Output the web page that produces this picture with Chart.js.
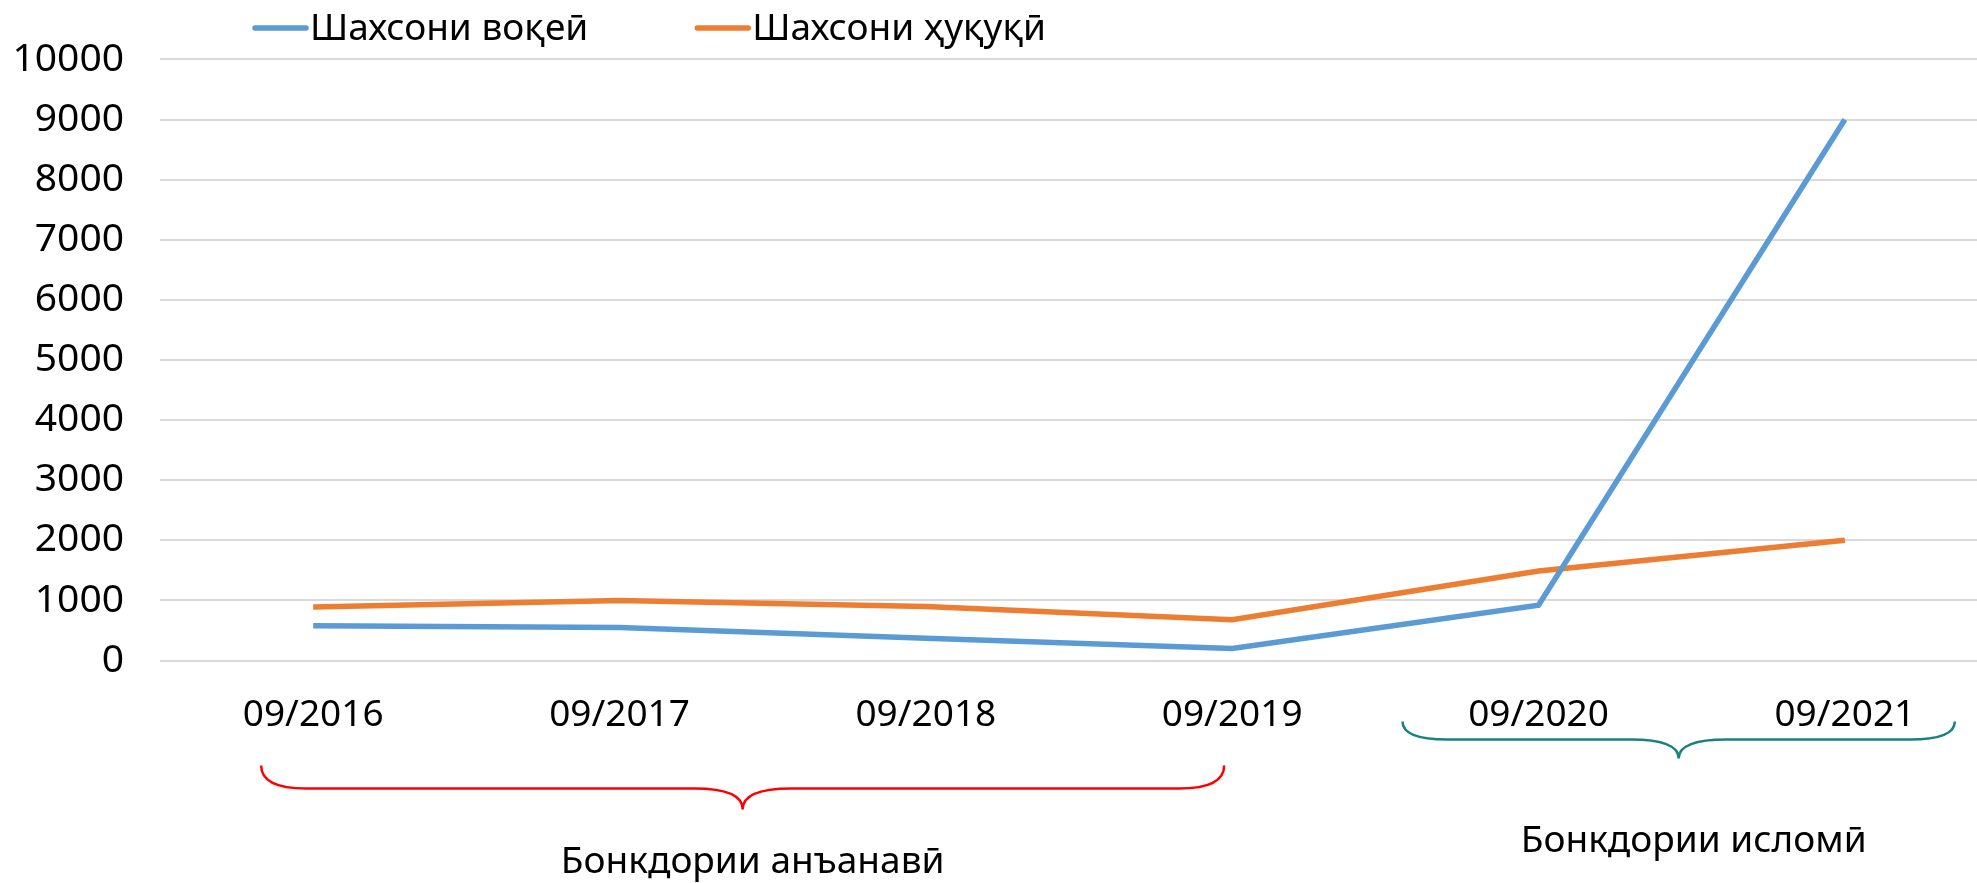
<!DOCTYPE html>
<html>
<head>
<meta charset="utf-8">
<script src="https://cdn.jsdelivr.net/npm/chart.js@4.4.0/dist/chart.umd.min.js"></script>
<style>
  html, body { margin: 0; padding: 0; background: #fff; overflow: hidden; }
  #wrap { width: 2000px; height: 883px; position: relative; }
</style>
</head>
<body>
<div id="wrap"><canvas id="chart"></canvas></div>
<script>
// data
const categories = ['09/2016', '09/2017', '09/2018', '09/2019', '09/2020', '09/2021'];
const physicalPersons = [580, 550, 370, 200, 920, 9000];
const legalPersons = [890, 1000, 900, 680, 1490, 2000];
const seriesNames = ['Шахсони воқеӣ', 'Шахсони ҳуқуқӣ'];
const groupNames = ['Бонкдории анъанавӣ', 'Бонкдории исломӣ'];
const groupRanges = [[0, 3], [4, 5]];

const FONT = '"Noto Sans", sans-serif';
const blue = '#5B9BD5';
const orange = '#ED7D31';

// legend drawn by hand so it can sit left of centre like the original
const legendPlugin = {
  id: 'leftLegend',
  afterDraw(chart) {
    const ctx = chart.ctx;
    ctx.save();
    ctx.font = '37px ' + FONT;
    ctx.textBaseline = 'middle';
    let x = 252;
    const y = 28;
    chart.data.datasets.forEach((ds) => {
      ctx.strokeStyle = ds.borderColor;
      ctx.lineWidth = 5.5;
      ctx.lineCap = 'round';
      ctx.beginPath();
      ctx.moveTo(x + 3, y);
      ctx.lineTo(x + 54, y);
      ctx.stroke();
      ctx.fillStyle = '#000';
      ctx.fillText(ds.label, x + 58, y + 1);
      x += 58 + ctx.measureText(ds.label).width + 106;
    });
    ctx.restore();
  }
};

function brace(ctx, x1, x2, yTop, yMid, yTip, color) {
  const xm = (x1 + x2) / 2;
  ctx.strokeStyle = color;
  ctx.lineWidth = 2.5;
  ctx.beginPath();
  ctx.moveTo(x1, yTop);
  ctx.quadraticCurveTo(x1, yMid, x1 + 45, yMid);
  ctx.lineTo(xm - 48, yMid);
  ctx.quadraticCurveTo(xm, yMid, xm, yTip);
  ctx.quadraticCurveTo(xm, yMid, xm + 48, yMid);
  ctx.lineTo(x2 - 45, yMid);
  ctx.quadraticCurveTo(x2, yMid, x2, yTop);
  ctx.stroke();
}

const groupsPlugin = {
  id: 'groups',
  afterDraw(chart) {
    const ctx = chart.ctx;
    const xs = chart.scales.x;
    const b = chart.chartArea.bottom;
    ctx.save();
    ctx.font = '37px ' + FONT;
    ctx.fillStyle = '#000';
    ctx.textAlign = 'center';
    ctx.textBaseline = 'middle';

    // conventional banks
    let a = xs.getPixelForValue(groupRanges[0][0]) - 52;
    let z = xs.getPixelForValue(groupRanges[0][1]) - 8;
    brace(ctx, a, z, b + 105, b + 128, b + 149, '#FF0000');
    ctx.fillText(groupNames[0], (a + z) / 2 + 10, b + 202);

    // islamic banks
    a = xs.getPixelForValue(groupRanges[1][0]) - 136;
    z = xs.getPixelForValue(groupRanges[1][1]) + 110;
    brace(ctx, a, z, b + 61, b + 79, b + 98, '#17837F');
    ctx.fillText(groupNames[1], (a + z) / 2 + 15, b + 181);
    ctx.restore();
  }
};

new Chart(document.getElementById('chart'), {
  type: 'line',
  data: {
    labels: categories,
    datasets: [
      {
        label: seriesNames[0],
        data: physicalPersons,
        borderColor: blue,
        backgroundColor: blue,
        borderWidth: 5.5,
        pointRadius: 0,
        tension: 0
      },
      {
        label: seriesNames[1],
        data: legalPersons,
        borderColor: orange,
        backgroundColor: orange,
        borderWidth: 5.5,
        pointRadius: 0,
        tension: 0
      }
    ]
  },
  options: {
    responsive: true,
    maintainAspectRatio: false,
    animation: false,
    layout: { padding: { top: 27, left: 12, right: 2, bottom: 112 } },
    plugins: {
      legend: { display: false },
      tooltip: { enabled: false }
    },
    scales: {
      x: {
        offset: true,
        grid: { display: false, drawTicks: false },
        border: { display: false },
        ticks: { color: '#000', font: { family: FONT, size: 37 }, padding: 33, maxRotation: 0 }
      },
      y: {
        min: 0,
        max: 10000,
        afterFit: (scale) => { scale.width = 148; },
        grid: { color: '#D9D9D9', lineWidth: 2, drawTicks: false },
        border: { display: false },
        ticks: {
          stepSize: 1000,
          color: '#000',
          font: { family: FONT, size: 39 },
          padding: 36,
          callback: (v) => String(v)
        }
      }
    }
  },
  plugins: [legendPlugin, groupsPlugin]
});
</script>
</body>
</html>
